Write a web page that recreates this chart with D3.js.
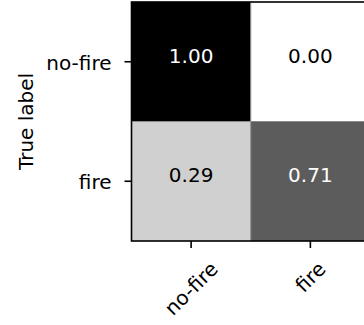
<!DOCTYPE html>
<html>
<head>
<meta charset="utf-8">
<script src="https://cdn.jsdelivr.net/npm/d3@7"></script>
<style>
  body { margin: 0; background: #fff; }
  svg { display: block; font-family: "DejaVu Sans", sans-serif; }
</style>
</head>
<body>
<div id="chart"></div>
<script>
// confusion matrix, normalised by row
var classes = ["no-fire", "fire"];
var matrix = [
    [1.00, 0.00],
    [0.29, 0.71]
];

var W = 364, H = 325;
var margin = {top: 2, left: 131.5};
var plotW = 238.5, plotH = 239;
var fontSize = 20;

var svg = d3.select("#chart").append("svg")
    .attr("width", W)
    .attr("height", H);

var x = d3.scaleBand().domain(classes).range([margin.left, margin.left + plotW]);
var y = d3.scaleBand().domain(classes).range([margin.top, margin.top + plotH]);
var color = d3.scaleSequential(d3.interpolateGreys).domain([0, 1]);

var cells = [];
matrix.forEach(function(row, i){
    row.forEach(function(v, j){
        cells.push({t: classes[i], p: classes[j], v: v});
    });
});

svg.selectAll(".cell")
    .data(cells)
    .enter().append("rect")
    .attr("class", "cell")
    .attr("x", function(d){ return x(d.p); })
    .attr("y", function(d){ return y(d.t); })
    .attr("width", x.bandwidth())
    .attr("height", y.bandwidth())
    .attr("fill", function(d){ return color(d.v); });

// faint seams between cells (image interpolation in the original)
svg.append("line")
    .attr("x1", x("fire")).attr("x2", x("fire"))
    .attr("y1", margin.top).attr("y2", margin.top + plotH)
    .attr("stroke", "#8a8a8a").attr("stroke-width", 1);
svg.append("line")
    .attr("x1", margin.left).attr("x2", margin.left + plotW)
    .attr("y1", y("fire")).attr("y2", y("fire"))
    .attr("stroke", "#8a8a8a").attr("stroke-width", 1);

var thresh = d3.max(cells, function(d){ return d.v; }) / 2;

svg.selectAll(".val")
    .data(cells)
    .enter().append("text")
    .attr("class", "val")
    .attr("x", function(d){ return x(d.p) + x.bandwidth() / 2; })
    .attr("y", function(d){ return y(d.t) + y.bandwidth() / 2 - 6; })
    .attr("text-anchor", "middle")
    .attr("dominant-baseline", "central")
    .style("font-size", fontSize + "px")
    .attr("fill", function(d){ return d.v > thresh ? "#fff" : "#000"; })
    .text(function(d){ return d3.format(".2f")(d.v); });

// frame
svg.append("rect")
    .attr("x", margin.left)
    .attr("y", margin.top)
    .attr("width", plotW)
    .attr("height", plotH)
    .attr("fill", "none")
    .attr("stroke", "#000")
    .attr("stroke-width", 1.6);

// y ticks + labels
var yt = svg.selectAll(".ytick")
    .data(classes)
    .enter().append("g")
    .attr("class", "ytick")
    .attr("transform", function(d){ return "translate(0," + (y(d) + y.bandwidth() / 2) + ")"; });

yt.append("line")
    .attr("x1", margin.left - 7).attr("x2", margin.left)
    .attr("stroke", "#000").attr("stroke-width", 1.6);

yt.append("text")
    .attr("x", margin.left - 20)
    .attr("y", 1)
    .attr("text-anchor", "end")
    .attr("dominant-baseline", "central")
    .style("font-size", fontSize + "px")
    .text(function(d){ return d; });

// x ticks + rotated labels
var bottom = margin.top + plotH;
var xt = svg.selectAll(".xtick")
    .data(classes)
    .enter().append("g")
    .attr("class", "xtick");

xt.append("line")
    .attr("x1", function(d){ return x(d) + x.bandwidth() / 2; })
    .attr("x2", function(d){ return x(d) + x.bandwidth() / 2; })
    .attr("y1", bottom).attr("y2", bottom + 7)
    .attr("stroke", "#000").attr("stroke-width", 1.6);

xt.append("text")
    .attr("text-anchor", "middle")
    .attr("dominant-baseline", "central")
    .style("font-size", fontSize + "px")
    .text(function(d){ return d; })
    .each(function(d){
        var bb = this.getBBox();
        var rotH = (bb.width + bb.height * 0.75) / Math.SQRT2;
        var cx = x(d) + x.bandwidth() / 2;
        var cy = bottom + 18 + rotH / 2;
        d3.select(this).attr("transform", "translate(" + cx + "," + cy + ") rotate(-45)");
    });

// axis title
svg.append("text")
    .attr("transform", "translate(33," + (margin.top + plotH / 2) + ") rotate(-90)")
    .attr("text-anchor", "middle")
    .style("font-size", fontSize + "px")
    .text("True label");
</script>
</body>
</html>
